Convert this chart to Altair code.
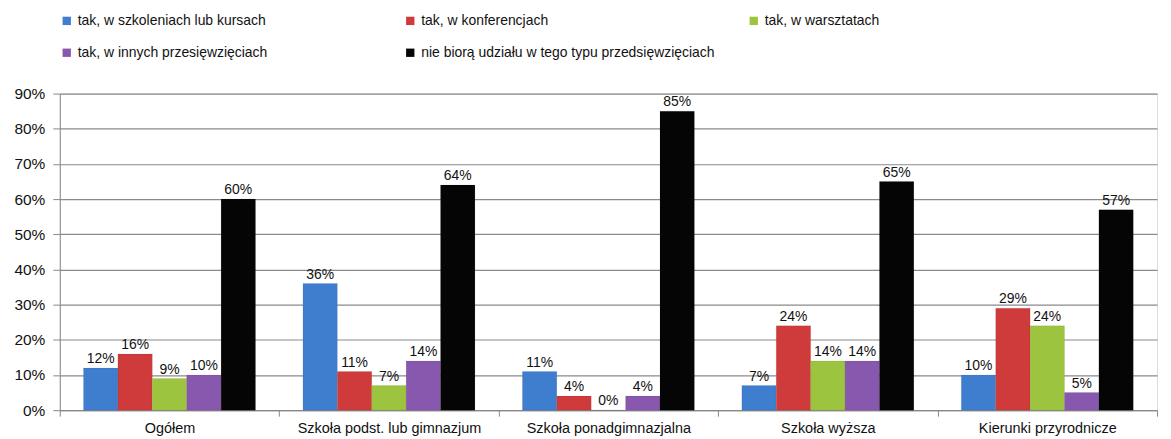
import altair as alt
import pandas as pd

categories = ["Ogółem", "Szkoła podst. lub gimnazjum", "Szkoła ponadgimnazjalna", "Szkoła wyższa", "Kierunki przyrodnicze"]
series = ["tak, w szkoleniach lub kursach", "tak, w konferencjach", "tak, w warsztatach",
          "tak, w innych przesięwzięciach", "nie biorą udziału w tego typu przedsięwzięciach"]
colors = ["#3F7ECF", "#CF3B3B", "#9DC43F", "#8758AE", "#050505"]

v_szkolenia = [12, 36, 11, 7, 10]
v_konferencje = [16, 11, 4, 24, 29]
v_warsztaty = [9, 7, 0, 14, 24]
v_inne = [10, 14, 4, 14, 5]
v_nie = [60, 64, 85, 65, 57]
y_ticks = [0, 0.1, 0.2, 0.3, 0.4, 0.5, 0.6, 0.7, 0.8, 0.9]

all_vals = [v_szkolenia, v_konferencje, v_warsztaty, v_inne, v_nie]
rows = []
for s, vals in zip(series, all_vals):
    for c, v in zip(categories, vals):
        rows.append({"kategoria": c, "seria": s, "wartosc": v / 100.0, "etykieta": f"{v}%"})
df = pd.DataFrame(rows)

FONT = "Liberation Sans"

x = alt.X("kategoria:N", sort=categories, title=None,
          scale=alt.Scale(paddingInner=0, paddingOuter=0),
          axis=alt.Axis(labelAngle=0, tickBand="extent", labelFont=FONT, labelFontSize=14.5,
                        labelLimit=400,
                        labelColor="#111", domainColor="#888", tickColor="#888", tickSize=6,
                        labelPadding=5, grid=False))
xo = alt.XOffset("seria:N", sort=series,
                 scale=alt.Scale(paddingInner=0, paddingOuter=0.69))
y = alt.Y("wartosc:Q", title=None,
          scale=alt.Scale(domain=[0, 0.9], nice=False),
          axis=alt.Axis(format=".0%", values=y_ticks, tickCount=10, labelFont=FONT,
                        labelOverlap=False, labelFontSize=15.5, labelColor="#111",
                        domainColor="#888", tickColor="#888",
                        tickSize=7, gridColor="#8a8a8a", gridWidth=1.2, labelPadding=8))

bars = alt.Chart(df).mark_bar(stroke="#00000022", strokeWidth=0.5).encode(
    x=x, xOffset=xo, y=y,
    color=alt.Color("seria:N", sort=series, scale=alt.Scale(domain=series, range=colors),
                    legend=alt.Legend(title=None, orient="none", legendX=0, legendY=-80,
                                      direction="horizontal",
                                      columns=3, gridAlign="all", columnPadding=32, rowPadding=18,
                                      symbolType="square", symbolSize=70, symbolStrokeWidth=0,
                                      labelFont=FONT, labelFontSize=14, labelColor="#111",
                                      labelLimit=400, symbolOffset=0)),
)

labels = alt.Chart(df).mark_text(dy=-9, font=FONT, fontSize=14, color="#111").encode(
    x=x, xOffset=xo, y=y, text="etykieta:N",
)

chart = alt.layer(bars, labels).properties(width=1102, height=318).configure_view(
    stroke=None).configure(background="white")

chart.save("out.html", embed_options={"renderer": "svg", "actions": False})
